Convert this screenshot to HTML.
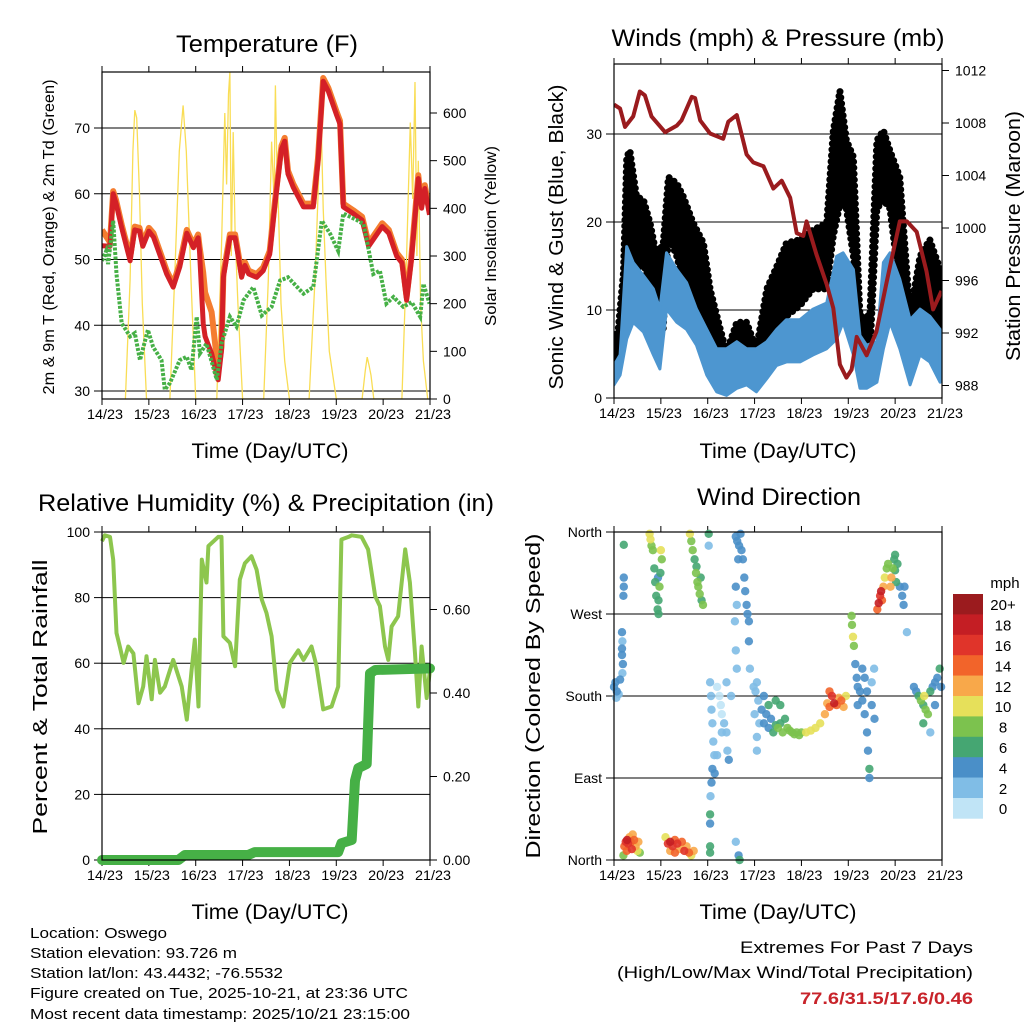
<!DOCTYPE html>
<html><head><meta charset="utf-8"><style>
html,body{margin:0;padding:0;background:#fff;}
svg{display:block;font-family:"Liberation Sans",sans-serif;}
</style></head><body>
<svg id="chart" width="1024" height="1024" viewBox="0 0 1024 1024" xmlns="http://www.w3.org/2000/svg"></svg>
<script>
// ---------- Temperature panel data ----------
const tempT = [0,0.17,0.24,0.3,0.42,0.6,0.7,0.8,0.87,1.0,1.1,1.38,1.52,1.66,1.81,1.95,2.05,2.08,2.16,2.2,2.34,2.48,2.55,2.59,2.73,2.84,2.9,2.98,3.05,3.13,3.3,3.44,3.58,3.69,3.83,3.9,3.97,4.08,4.19,4.3,4.51,4.61,4.72,4.83,5.0,5.08,5.15,5.36,5.55,5.69,5.98,6.12,6.29,6.4,6.5,6.6,6.75,6.82,6.89,6.99];
const redTemp = [52.1,52,60,58.5,54.8,49.8,54.5,54.3,52,54.3,53.4,47.8,45.8,48.9,54,51.8,53.3,51.3,40.3,38.3,35.7,31.7,36.2,47.3,53.3,53.3,50.8,47.3,49.1,47.8,47.3,48.3,50.8,58.3,66.8,68,63,61,59.5,58,58,64.9,77.1,75.6,72.1,70.6,58,57,56,52,55,54,50.5,49.5,43.8,49.8,62.3,57.8,60.8,56.8];
const orangeTemp = [54.5,52.6,60.4,59,55.3,50.3,55,54.8,52.5,54.8,54,48.3,46.3,49.4,54.5,52.3,53.8,52,48,45,42,33,36.7,47.8,53.8,53.8,51.3,47.8,49.6,48.3,47.8,48.8,51.3,58.8,67.3,68.5,63.5,61.5,60,58.5,58.5,65.4,77.6,76.1,72.6,71.1,58.5,57.5,56.5,52.5,55.5,54.5,51,50,44.3,50.3,62.8,58.3,61.3,57.3];
const dewT = [0,0.09,0.13,0.24,0.31,0.42,0.6,0.7,0.81,0.98,1.09,1.27,1.34,1.45,1.66,1.81,1.91,2.02,2.09,2.23,2.45,2.55,2.73,2.87,3.02,3.23,3.41,3.62,3.8,3.97,4.3,4.51,4.69,4.87,5.04,5.15,5.44,5.58,5.65,5.79,5.93,6.07,6.22,6.43,6.61,6.79,6.86,6.99];
const dewPoint = [49.8,51.3,49.3,55.9,47.8,40.3,38.3,38.8,34.7,39.3,36.7,34.7,30.2,31.2,34.7,35.2,33.2,41.3,35.7,37.2,31.7,37.2,41.3,39.8,43.8,45.8,41.5,42.8,46.8,47.3,44.8,45.8,55.9,53.9,51.3,57,56,55.4,53,47.8,48.3,43.3,44.3,42.8,43.5,41.3,46.3,43.3];
const solarT = [0.5,0.6,0.66,0.7,0.74,0.8,0.86,0.95, 1.45,1.55,1.65,1.73,1.8,1.9,2.0, 2.45,2.55,2.62,2.66,2.7,2.73,2.76,2.8,2.84,2.9,3.0, 3.45,3.55,3.62,3.67,3.7,3.73,3.77,3.82,3.9,4.0, 4.42,4.55,4.63,4.68,4.72,4.78,4.85,5.0, 5.55,5.62,5.66,5.7,5.74,5.8, 6.4,6.5,6.58,6.63,6.68,6.72,6.75,6.8,6.86,6.95];
const solarV = [0,250,520,606,590,430,200,0, 0,250,520,616,520,250,0, 0,320,600,450,640,686,300,560,350,200,0, 0,250,540,420,658,500,380,200,80,0, 0,260,480,570,400,250,100,0, 0,60,88,70,50,0, 0,300,580,420,665,300,500,200,80,0];
const tempTicks = [30,40,50,60,70];
const solarTicks = [0,100,200,300,400,500,600];
const dayLabels = ["14/23","15/23","16/23","17/23","18/23","19/23","20/23","21/23"];

// ---------- Wind panel data ----------
const presT = [0,0.13,0.235,0.41,0.55,0.66,0.8,1.09,1.34,1.44,1.66,1.73,1.84,2.05,2.33,2.44,2.62,2.83,2.97,3.19,3.4,3.58,3.76,3.9,4.04,4.11,4.32,4.54,4.68,4.82,4.96,5.07,5.18,5.39,5.6,5.82,6.1,6.25,6.46,6.67,6.81,6.99];
const pressure = [1009.4,1009.1,1007.7,1008.5,1010.4,1010.1,1008.5,1007.3,1007.8,1008.2,1010,1009.9,1008.2,1007.2,1006.8,1008.1,1008.6,1005.6,1005,1004.7,1003,1003.6,1002.3,999.6,999.4,1000.5,998,995.7,993.9,989.6,988.6,989.2,991.7,990.3,992.1,995.9,1000.5,1000.5,999.7,996.7,993.8,995.2];
const windT = [0,0.13,0.27,0.41,0.63,0.84,0.98,1.12,1.34,1.55,1.76,1.98,2.19,2.4,2.62,2.83,3.04,3.26,3.47,3.68,3.97,4.25,4.54,4.75,4.89,5.11,5.25,5.39,5.61,5.75,5.89,6.1,6.32,6.53,6.74,6.96];
const windHigh = [3.7,4.9,17.2,15.4,13.9,12.4,10.1,16.5,14.6,13.1,10.1,7.8,5.6,5.6,6.4,5.6,5.6,6.4,7.8,8.9,8.9,10.1,10.8,16.1,16.5,14.6,7.1,6,6.4,15.4,16.5,13.5,8.9,10.1,9.3,7.8];
const windLow = [1.5,2.6,6.7,8.6,7.5,4.9,3.3,10.1,8.6,7.8,6,2.6,0.7,0.3,1.1,1.5,0.7,2.2,3.7,4.1,4.1,4.9,5.6,6.7,8.6,4.9,1.1,1.1,1.8,5.6,8.6,5.6,1.5,4.9,4.1,1.8];
const gustT = [0,0.09,0.2,0.27,0.34,0.48,0.63,0.77,0.91,1.05,1.16,1.34,1.48,1.69,1.91,2.05,2.26,2.4,2.62,2.83,3.04,3.26,3.47,3.68,3.97,4.25,4.54,4.68,4.82,4.96,5.11,5.25,5.46,5.61,5.75,5.89,6.1,6.32,6.53,6.74,6.96];
const gustHigh = [6,7.8,14.2,27.4,28.1,22.9,22.5,19.9,16.1,17.6,25.1,24.4,22.9,19.9,17.6,12.4,8,5.2,8.6,8.6,5.6,12.4,14.9,17.6,18,19.1,19.9,30.4,34.9,29.3,27.4,9.3,9.3,29.3,30.4,28.1,25.1,9.5,16.1,18,14.6];
const gustLow = [2.6,4.9,8.6,12.4,16.1,14.6,15.4,12.4,8.6,7.8,18.4,16.1,13.1,10.5,8.6,6.4,3.7,2.6,4.9,4.9,3.5,6.7,7.8,9.3,10.5,12.4,12.4,18.4,22,21.5,16.1,4.9,4.9,21.5,22.5,21.5,12.4,6.7,6.7,8.6,6.7];
const windTicks = [0,10,20,30];
const presTicks = [988,992,996,1000,1004,1008,1012];

// ---------- RH panel data ----------
const rhT = [0,0.06,0.17,0.24,0.31,0.38,0.46,0.56,0.67,0.78,0.88,0.95,1.06,1.13,1.24,1.34,1.52,1.7,1.81,1.91,1.98,2.06,2.13,2.23,2.27,2.48,2.55,2.59,2.73,2.84,2.94,3.05,3.19,3.3,3.41,3.51,3.62,3.73,3.87,4.01,4.19,4.3,4.47,4.58,4.72,4.9,5.04,5.11,5.26,5.33,5.54,5.68,5.83,5.93,6.04,6.11,6.18,6.32,6.47,6.57,6.68,6.75,6.82,6.93,7.0];
const rhValues = [97.2,99,98.5,91.6,69.2,65.1,60.1,65.1,63,47.8,52.9,62.1,49,61,51,52.9,61,52.9,42.8,57.6,67.2,46.8,91.6,84.6,95.7,98.5,98.5,68.2,66.2,59.1,85.5,90.5,92.6,88.5,79.4,75.3,68.2,51.9,46.8,60.1,63.9,61,65.1,59.1,45.9,46.8,52.9,97.7,98.5,99,98.5,94.7,80.4,77.4,65.1,61,71.2,74.3,94.7,84.6,63,46.8,65.1,49.4,58];
const rainT = [0,1.63,1.77,3.12,3.26,5.04,5.11,5.33,5.4,5.47,5.65,5.72,5.83,7.0];
const rainValues = [0,0,0.012,0.012,0.019,0.019,0.04,0.048,0.19,0.22,0.23,0.447,0.455,0.459];
const rhTicks = [0,20,40,60,80,100];
const rainTicks = [0,0.2,0.4,0.6];

// ---------- Wind direction data ----------
const dirT = [0,0.03,0.06,0.1,0.13,0.05,0.17,0.18,0.17,0.19,0.18,0.17,0.21,0.21,0.2,0.21,
0.2,0.22,0.25,0.28,0.3,0.33,0.36,0.4,0.43,0.46,0.5,0.55,0.52,0.38,0.27,
1.1,1.15,1.2,1.25,1.3,1.35,1.4,1.45,1.5,1.55,1.6,1.65,1.7,1.3,1.2,
0.76,0.78,0.8,0.83,0.86,0.88,0.9,0.93,0.95,1.0,1.02,0.99,0.97,0.95,0.94,
1.62,1.65,1.68,1.72,1.75,1.78,1.8,1.83,1.87,1.9,1.85,1.76,2.02,2.02,
2.6,2.63,2.67,2.7,2.72,2.75,2.78,2.8,2.83,2.85,2.88,2.65,2.6,2.62,2.58,2.6,2.62,2.88,2.9,2.66,2.68,
2.05,2.07,2.08,2.1,2.12,2.14,2.1,2.08,2.06,2.05,2.05,2.2,2.25,2.28,2.3,2.35,2.4,2.42,2.45,2.5,2.4,2.3,2.2,2.15,2.05,2.05,2.6,
2.98,3.02,3.05,3.08,3.0,3.1,3.15,3.2,3.25,3.3,3.35,3.4,3.45,3.5,3.55,3.6,3.65,3.7,3.75,3.8,3.85,3.9,3.95,3.45,3.55,3.05,3.05,3.2,3.3,
4.0,4.1,4.2,4.3,4.4,4.5,4.55,4.6,4.65,4.7,4.75,4.8,4.85,4.9,4.95,4.6,
5.07,5.08,5.1,5.12,5.15,5.18,5.2,5.25,5.3,5.2,5.35,5.4,5.42,5.45,5.45,5.35,5.5,5.55,5.5,5.56,5.3,5.4,
5.62,5.65,5.68,5.7,5.72,5.75,5.78,5.82,5.85,5.9,5.92,5.95,5.98,6.0,6.02,6.05,6.1,6.15,6.18,6.2,6.25,6.0,
6.4,6.45,6.5,6.55,6.6,6.62,6.65,6.7,6.75,6.8,6.85,6.9,6.95,6.98,6.6,6.75,6.85];
const dirDeg = [190,195,185,182,198,178,250,240,225,215,205,232,310,300,290,346,
5,15,20,22,18,25,20,28,22,15,10,8,20,12,10,
25,18,20,15,22,18,12,20,10,15,8,5,10,8,10,
358,352,345,340,320,305,290,275,270,340,330,315,300,285,310,
358,350,340,330,315,305,300,292,285,280,310,322,358,345,
355,350,345,358,340,330,310,295,280,270,262,330,300,280,262,230,210,240,210,5,0,
195,180,165,150,130,115,100,85,70,50,40,190,180,170,160,150,140,120,110,180,195,140,115,95,8,15,20,
190,185,195,175,160,150,165,150,160,145,155,140,148,145,150,140,155,145,142,140,138,140,137,175,170,120,135,180,170,
140,140,142,145,150,160,172,168,180,172,170,178,175,168,180,185,
268,258,245,235,215,200,190,185,175,170,160,140,120,100,90,200,195,210,170,155,210,185,
275,282,290,295,285,300,310,320,325,300,310,320,330,318,305,325,300,290,280,300,250,335,
190,185,180,175,170,180,165,160,185,190,195,200,210,190,150,140,170];
const dirSpeed = [4,4,4,2,4,2,4,2,4,4,2,4,4,4,4,6,
8,14,16,18,16,12,14,12,14,12,10,8,12,16,14,
10,16,18,16,14,16,12,14,16,12,14,10,12,14,12,
10,10,8,8,6,6,6,6,6,10,8,6,8,6,4,
10,8,8,6,8,8,8,8,6,8,6,6,6,2,
4,4,4,4,4,4,4,4,4,4,4,4,4,2,2,2,2,4,2,4,6,
2,2,2,2,2,2,4,4,2,6,4,0,0,0,0,2,2,2,4,2,2,2,2,4,6,6,2,
2,2,2,2,2,2,4,4,4,4,4,6,6,8,6,8,6,8,8,8,8,8,8,6,6,2,2,4,6,
8,10,10,10,10,12,12,14,16,18,14,12,14,12,10,14,
8,8,10,8,4,4,4,4,4,4,4,4,4,6,4,4,2,2,4,4,4,4,
14,18,16,18,14,12,10,8,8,12,12,8,6,6,6,6,4,4,4,4,2,6,
4,4,6,8,6,10,8,8,6,4,4,4,6,4,6,2,4];
const dirTicks = [0,90,180,270,360];
const dirNames = ["North","East","South","West","North"];
const speedBins = [0,2,4,6,8,10,12,14,16,18,20];
const speedLabels = ["0","2","4","6","8","10","12","14","16","18","20+"];
const speedColors = ["#c0e4f6","#80bde6","#4a8fc8","#45a672","#7cc24e","#e6e05a","#f8a84a","#f2642a","#e0342a","#c41e24","#9b1b1e"];

// ---------- helpers ----------
const NS = "http://www.w3.org/2000/svg";
const svg = document.getElementById("chart");
function mk(tag, attrs, parent){ const e=document.createElementNS(NS,tag); for(const k in attrs) e.setAttribute(k,attrs[k]); (parent||svg).appendChild(e); return e; }
function txt(s, attrs, parent){ const e=mk("text",attrs,parent); e.textContent=s; return e; }
function scale(d0,d1,r0,r1){ return v => r0+(v-d0)*(r1-r0)/(d1-d0); }
function linePath(xs, ys, fx, fy){ return xs.map((t,i)=>(i?"L":"M")+fx(t).toFixed(1)+","+fy(ys[i]).toFixed(1)).join(""); }
function bandPath(xs, hi, lo, fx, fy){
  let d = xs.map((t,i)=>(i?"L":"M")+fx(t).toFixed(1)+","+fy(hi[i]).toFixed(1)).join("");
  for(let i=xs.length-1;i>=0;i--) d += "L"+fx(xs[i]).toFixed(1)+","+fy(lo[i]).toFixed(1);
  return d+"Z";
}

function frame(g, x0, y0, w, h){
  const fx = scale(0,7,x0,x0+w);
  for(let i=0;i<8;i++){
    const x=fx(i);
    const tk1 = mk("line",{x1:x,y1:y0,x2:x,y2:y0-6,stroke:"#000","stroke-width":1},g);
    
    
    const tk2 = mk("line",{x1:x,y1:y0+h,x2:x,y2:y0+h+6,stroke:"#000","stroke-width":1},g);
    
    
    const lb = txt(dayLabels[i],{x:x+3,y:y0+h+20,"font-size":14,"text-anchor":"middle",textLength:36,lengthAdjust:"spacingAndGlyphs"},g);
    
    
  }
  return fx;
}
function border(g,x0,y0,w,h){
  const b = mk("rect",{x:x0,y:y0,width:w,height:h,fill:"none",stroke:"#000","stroke-width":1.2},g);
  
  
}
function leftAxis(g,x0,y0,w,h,ticks,fy,grid,fmt){
  ticks.forEach(v=>{
    const y=fy(v);
    if(grid){ const gl=mk("line",{x1:x0,y1:y,x2:x0+w,y2:y,stroke:"#000","stroke-width":1},g);
      
       }
    const t=mk("line",{x1:x0-8,y1:y,x2:x0,y2:y,stroke:"#000","stroke-width":1},g);
    
    
    const l=txt(fmt?fmt(v):String(v),{x:x0-12,y:y+5,"font-size":14,"text-anchor":"end"},g);
    
    
  });
}
function rightAxis(g,x0,ticks,fy,fmt){
  ticks.forEach(v=>{
    const y=fy(v);
    const t=mk("line",{x1:x0,y1:y,x2:x0+7,y2:y,stroke:"#000","stroke-width":1},g);
    
    
    const l=txt(fmt?fmt(v):String(v),{x:x0+13,y:y+5,"font-size":14},g);
    
    
  });
}
function vlabel(g,s,x,yc,len,size,name){
  const e=txt(s,{x:0,y:0,"font-size":size,"text-anchor":"middle",transform:`translate(${x},${yc}) rotate(-90)`,textLength:len,lengthAdjust:"spacingAndGlyphs"},g);
  
  
}
function htitle(g,s,xc,y,len,size,name){
  const e=txt(s,{x:xc,y:y,"font-size":size,"text-anchor":"middle",textLength:len,lengthAdjust:"spacingAndGlyphs"},g);
  
  
}

// ---------- Panel 1: Temperature ----------
(function(){
  const g=mk("g",{});
  
  
  const x0=102,y0=72,w=328,h=327;
  const fx=frame(g,x0,y0,w,h);
  const fy=scale(30,70,391,128);
  const fs=scale(0,600,399,113);
  const clip=mk("clipPath",{id:"c1"},g); mk("rect",{x:x0,y:y0,width:w,height:h},clip);
  leftAxis(g,x0,y0,w,h,tempTicks,fy,true);
  const s=mk("path",{d:linePath(solarT,solarV,fx,fs),fill:"none",stroke:"#f9dd55","stroke-width":1.3,"clip-path":"url(#c1)"},g);
  
  
  const o=mk("path",{d:linePath(tempT,orangeTemp,fx,fy),fill:"none",stroke:"#f47d30","stroke-width":6,"stroke-linejoin":"round","clip-path":"url(#c1)"},g);
  
  
  const r=mk("path",{d:linePath(tempT,redTemp,fx,fy),fill:"none",stroke:"#d42027","stroke-width":5,"stroke-linejoin":"round","clip-path":"url(#c1)"},g);
  
  
  const d=mk("path",{d:linePath(dewT,dewPoint,fx,fy),fill:"none",stroke:"#46b046","stroke-width":4,"stroke-dasharray":"3 1.5","clip-path":"url(#c1)"},g);
  
  
  border(g,x0,y0,w,h);
  rightAxis(g,x0+w,solarTicks,fs);
  htitle(g,"Temperature (F)",267,52,182,24,"temperature-title");
  htitle(g,"Time (Day/UTC)",270,458,157,21,"x-axis-title");
  vlabel(g,"2m & 9m T (Red, Orange) & 2m Td (Green)",54,237,315,16,"temperature-y-axis-title");
  vlabel(g,"Solar Insolation (Yellow)",496,236,180,16,"solar-y-axis-title");
})();

// ---------- Panel 2: Winds ----------
(function(){
  const g=mk("g",{});
  
  
  const x0=614,y0=64,w=328,h=334;
  const fx=frame(g,x0,y0,w,h);
  const fy=scale(0,30,398,134);
  const fp=scale(988,1008,385.5,123);
  const clip=mk("clipPath",{id:"c2"},g); mk("rect",{x:x0,y:y0,width:w,height:h},clip);
  leftAxis(g,x0,y0,w,h,windTicks,fy,true);
  const gb=mk("path",{d:bandPath(gustT,gustHigh,gustLow,fx,fy),fill:"#000",stroke:"#000","stroke-width":7,"stroke-linejoin":"round","stroke-linecap":"round","stroke-dasharray":"0 6","clip-path":"url(#c2)"},g);
  
  
  const wb=mk("path",{d:bandPath(windT,windHigh,windLow,fx,fy),fill:"#4d96d0",stroke:"#4d96d0","stroke-width":3,"stroke-linejoin":"round","clip-path":"url(#c2)"},g);
  
  
  const p=mk("path",{d:linePath(presT,pressure,fx,fp),fill:"none",stroke:"#9a1b1e","stroke-width":4,"stroke-linejoin":"round","clip-path":"url(#c2)"},g);
  
  
  border(g,x0,y0,w,h);
  rightAxis(g,x0+w,presTicks,fp);
  htitle(g,"Winds (mph) & Pressure (mb)",778,46,333,24,"winds-title");
  htitle(g,"Time (Day/UTC)",778,458,157,21,"x-axis-title");
  vlabel(g,"Sonic Wind & Gust (Blue, Black)",563,237,305,20,"wind-y-axis-title");
  vlabel(g,"Station Pressure (Maroon)",1020,236,250,20,"pressure-y-axis-title");
})();

// ---------- Panel 3: RH ----------
(function(){
  const g=mk("g",{});
  
  
  const x0=102,y0=532,w=328,h=328;
  const fx=frame(g,x0,y0,w,h);
  const fy=scale(0,100,860,532);
  const fr=scale(0,0.2,860,776.5);
  const clip=mk("clipPath",{id:"c3"},g); mk("rect",{x:x0-8,y:y0,width:w+16,height:h+8},clip);
  leftAxis(g,x0,y0,w,h,rhTicks,fy,true);
  const r=mk("path",{d:linePath(rhT,rhValues,fx,fy),fill:"none",stroke:"#8dc64e","stroke-width":4,"stroke-linejoin":"round","clip-path":"url(#c3)"},g);
  
  
  const p=mk("path",{d:linePath(rainT,rainValues,fx,fr),fill:"none",stroke:"#46b046","stroke-width":10,"stroke-linejoin":"round","stroke-linecap":"round","clip-path":"url(#c3)"},g);
  
  
  border(g,x0,y0,w,h);
  rightAxis(g,x0+w,rainTicks,fr,v=>v.toFixed(2));
  htitle(g,"Relative Humidity (%) & Precipitation (in)",266,511,456,24,"humidity-title");
  htitle(g,"Time (Day/UTC)",270,919,157,21,"x-axis-title");
  vlabel(g,"Percent & Total Rainfall",47,697,275,20,"humidity-y-axis-title");
})();

// ---------- Panel 4: Wind direction ----------
(function(){
  const g=mk("g",{});
  
  
  const x0=614,y0=532,w=328,h=328;
  const fx=frame(g,x0,y0,w,h);
  const fy=scale(0,360,860,532);
  leftAxis(g,x0,y0,w,h,dirTicks,fy,true,v=>dirNames[dirTicks.indexOf(v)]);
  function colorFor(s){ let c=speedColors[0]; speedBins.forEach((b,i)=>{ if(s>=b) c=speedColors[i]; }); return c; }
  const order = dirT.map((t,i)=>i).sort((a,b)=>dirSpeed[a]-dirSpeed[b]);
  order.forEach(i=>{
    const c=mk("circle",{cx:fx(dirT[i]).toFixed(1),cy:fy(dirDeg[i]).toFixed(1),r:4.2,fill:colorFor(dirSpeed[i]),"fill-opacity":0.9},g);
    
    
  });
  border(g,x0,y0,w,h);
  htitle(g,"Wind Direction",779,505,164,24,"wind-direction-title");
  htitle(g,"Time (Day/UTC)",778,919,157,21,"x-axis-title");
  vlabel(g,"Direction (Colored By Speed)",540,696,325,20,"direction-y-axis-title");
  const cb=mk("g",{},g);
  
  
  const bh=20.4, top=594;
  for(let k=0;k<speedColors.length;k++){
    const idx=speedColors.length-1-k;
    const rr=mk("rect",{x:953,y:top+k*bh,width:30,height:bh+0.3,fill:speedColors[idx]},cb);
    
    
    const lt=txt(speedLabels[idx],{x:1003,y:top+k*bh+bh/2+6,"font-size":15,"text-anchor":"middle"},cb);
    
    
  }
  const u=txt("mph",{x:1005,y:588,"font-size":15,"text-anchor":"middle"},cb);
  
  
})();

// ---------- Footer ----------
(function(){
  const lines=[["Location: Oswego",938,137],["Station elevation: 93.726 m",958,207],["Station lat/lon: 43.4432; -76.5532",978,253],["Figure created on Tue, 2025-10-21, at 23:36 UTC",998,378],["Most recent data timestamp: 2025/10/21 23:15:00",1019,380]];
  lines.forEach(l=>{
    const e=txt(l[0],{x:30,y:l[1],"font-size":15,textLength:l[2],lengthAdjust:"spacingAndGlyphs"});
    
    
  });
  const e1=txt("Extremes For Past 7 Days",{x:973,y:953,"font-size":17,"text-anchor":"end",textLength:233,lengthAdjust:"spacingAndGlyphs"});
  
  
  const e2=txt("(High/Low/Max Wind/Total Precipitation)",{x:973,y:978,"font-size":17,"text-anchor":"end",textLength:356,lengthAdjust:"spacingAndGlyphs"});
  
  
  const e3=txt("77.6/31.5/17.6/0.46",{x:973,y:1004,"font-size":17,"font-weight":"bold",fill:"#c8232a","text-anchor":"end",textLength:173,lengthAdjust:"spacingAndGlyphs"});
  
  
})();
</script>
</body></html>
